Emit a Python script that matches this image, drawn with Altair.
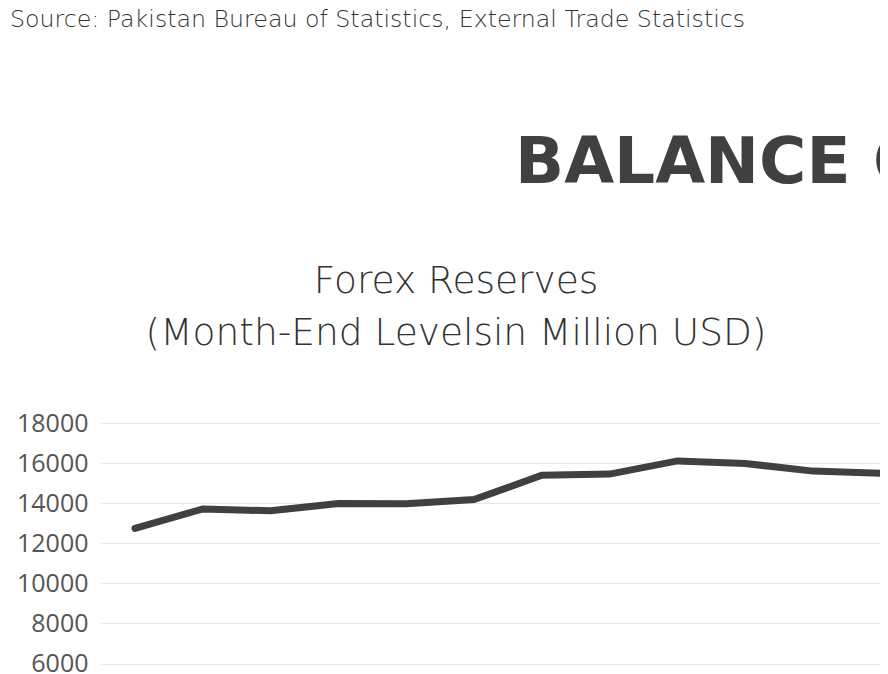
import altair as alt
import pandas as pd

months = ["Jul", "Aug", "Sep", "Oct", "Nov", "Dec", "Jan", "Feb", "Mar", "Apr", "May", "Jun"]
reserves = [12740, 13710, 13620, 13980, 13970, 14180, 15390, 15450, 16110, 15980, 15600, 15490]
y_ticks = [6000, 8000, 10000, 12000, 14000, 16000, 18000]

source_text = "Source: Pakistan Bureau of Statistics, External Trade Statistics"
big_title = "BALANCE OF PAYMENTS"
sub1 = "Forex Reserves"
sub2 = "(Month-End Levelsin Million USD)"

df = pd.DataFrame({"month": months, "reserves": reserves, "idx": list(range(len(months)))})

W, H = 779, 251

line = alt.Chart(df).mark_line(
    color="#404040", strokeWidth=7, strokeCap="round", strokeJoin="miter", clip=True
).encode(
    x=alt.X("idx:Q", axis=None, scale=alt.Scale(domain=[-0.501, 10.988], nice=False, zero=False)),
    y=alt.Y(
        "reserves:Q",
        scale=alt.Scale(domain=[5480, 18000], nice=False, zero=False),
        axis=alt.Axis(
            values=y_ticks, format="d", title=None, domain=False, ticks=False, labelPadding=13,
            labelFont="Open Sans", labelFontSize=25, labelColor="#555555",
            gridColor="#e8e8e8", gridWidth=1.2, labelBaseline="middle",
        ),
    ),
    tooltip=["month:N", "reserves:Q"],
)

def txt(s, x, y, size, weight, color, align="left", font="DejaVu Sans"):
    return alt.Chart(pd.DataFrame({"t": [s]})).mark_text(
        align=align, baseline="alphabetic", fontSize=size, fontWeight=weight,
        font=font, color=color,
    ).encode(text="t:N", x=alt.value(x), y=alt.value(y))

layers = [
    line,
    txt(source_text, -91, -396, 23.7, 200, "#333333"),
    txt(big_title, 414, -240, 64.5, 700, "#404040"),
    txt(sub1, 355, -130, 37.5, 200, "#333333", align="center"),
    txt(sub2, 355, -78, 37.5, 200, "#333333", align="center"),
]

chart = alt.layer(*layers).properties(
    width=W, height=H,
    autosize=alt.AutoSizeParams(type="none"),
    padding={"left": 93, "top": 415, "right": 0, "bottom": 0},
).configure_view(stroke=None)

chart.save("out.html", embed_options={"renderer": "svg", "actions": False})
